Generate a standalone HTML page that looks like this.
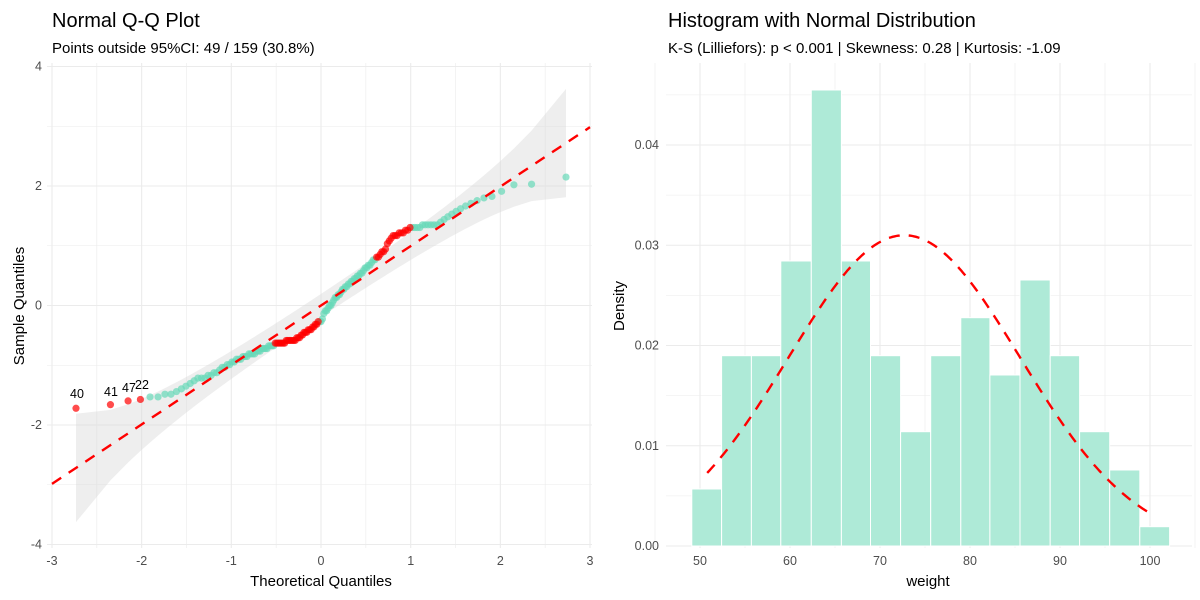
<!DOCTYPE html>
<html><head><meta charset="utf-8"><style>
body{margin:0;background:#fff;}
svg{display:block;font-family:"Liberation Sans",Arial,sans-serif;}
</style></head><body>
<svg id="s" width="1200" height="600" xmlns="http://www.w3.org/2000/svg">
<rect width="1200" height="600" fill="#fff"/>
<g id="L"></g><g id="R"></g>
<text x="52" y="27" font-size="20" fill="#000">Normal Q-Q Plot</text>
<text x="52" y="53" font-size="15" fill="#000">Points outside 95%CI: 49 / 159 (30.8%)</text>
<text x="321" y="586" font-size="15" text-anchor="middle" fill="#000">Theoretical Quantiles</text>
<text transform="translate(24,306) rotate(-90)" font-size="15" text-anchor="middle" fill="#000">Sample Quantiles</text>
<text x="668" y="27" font-size="20" fill="#000">Histogram with Normal Distribution</text>
<text x="668" y="53" font-size="15" fill="#000">K-S (Lilliefors): p &lt; 0.001 | Skewness: 0.28 | Kurtosis: -1.09</text>
<text x="928" y="586" font-size="15" text-anchor="middle" fill="#000">weight</text>
<text transform="translate(624,306) rotate(-90)" font-size="15" text-anchor="middle" fill="#000">Density</text>
</svg>
<script>
var NS="http://www.w3.org/2000/svg";
function el(p,t,a,txt){var e=document.createElementNS(NS,t);for(var k in a)e.setAttribute(k,a[k]);if(txt!==undefined)e.textContent=txt;p.appendChild(e);return e;}
var L=document.getElementById('L'),R=document.getElementById('R');
var X=function(v){return 321+v*89.67;},Y=function(v){return 305.5-v*59.75;};
for(var v=-3;v<=3;v+=0.5){el(L,'line',{x1:X(v),x2:X(v),y1:63,y2:548,stroke:'#ebebeb','stroke-width':v%1==0?1.1:0.6});}
for(var v=-4;v<=4;v+=1){el(L,'line',{x1:47,x2:592,y1:Y(v),y2:Y(v),stroke:'#ebebeb','stroke-width':v%2==0?1.1:0.6});}
[-3,-2,-1,0,1,2,3].forEach(function(v){el(L,'text',{x:X(v),y:565,'font-size':12.5,'text-anchor':'middle',fill:'#4d4d4d'},v);});
[-4,-2,0,2,4].forEach(function(v){el(L,'text',{x:42,y:Y(v)+4,'font-size':12.5,'text-anchor':'end',fill:'#4d4d4d'},v);});
function qnorm(p){var a=[-39.6968302866538,220.946098424521,-275.928510446969,138.357751867269,-30.6647980661472,2.50662827745924],b=[-54.4760987982241,161.585836858041,-155.698979859887,66.8013118877197,-13.2806815528857],c=[-0.00778489400243029,-0.322396458041136,-2.40075827716184,-2.54973253934373,4.37466414146497,2.93816398269878],d=[0.00778469570904146,0.32246712907004,2.445134137143,3.75440866190742];var q,r;if(p<0.02425){q=Math.sqrt(-2*Math.log(p));return(((((c[0]*q+c[1])*q+c[2])*q+c[3])*q+c[4])*q+c[5])/((((d[0]*q+d[1])*q+d[2])*q+d[3])*q+1);}if(p>1-0.02425){q=Math.sqrt(-2*Math.log(1-p));return-(((((c[0]*q+c[1])*q+c[2])*q+c[3])*q+c[4])*q+c[5])/((((d[0]*q+d[1])*q+d[2])*q+d[3])*q+1);}q=p-0.5;r=q*q;return(((((a[0]*r+a[1])*r+a[2])*r+a[3])*r+a[4])*r+a[5])*q/(((((b[0]*r+b[1])*r+b[2])*r+b[3])*r+b[4])*r+1);}
var n=159,sl=0.995,ic=0.0;
var up=[],lo=[];
for(var i=1;i<=n;i++){var p=(i-0.5)/n,z=qnorm(p);var dn=Math.exp(-z*z/2)/Math.sqrt(2*Math.PI);var se=sl/dn*Math.sqrt(p*(1-p)/n)*1.96;up.push(X(z)+','+Y(ic+sl*z+se));lo.unshift(X(z)+','+Y(ic+sl*z-se));}
el(L,'polygon',{points:up.concat(lo).join(' '),fill:'#d9d9d9','fill-opacity':0.45});
var K=[[-2.73,-1.72],[-2.35,-1.66],[-2.17,-1.60],[-2.0,-1.57],[-1.85,-1.54],[-1.6,-1.45],[-1.4,-1.25],[-1.2,-1.15],[-1.0,-0.95],[-0.75,-0.8],[-0.5,-0.64],[-0.3,-0.58],[-0.1,-0.38],[0.0,-0.25],[0.05,-0.1],[0.15,0.1],[0.3,0.35],[0.5,0.62],[0.7,0.92],[0.8,1.15],[0.95,1.25],[1.0,1.3],[1.3,1.37],[1.5,1.55],[1.75,1.78],[1.9,1.82],[2.0,1.9],[2.15,2.02],[2.35,2.03],[2.73,2.15]];
function f(z){if(z<=K[0][0])return K[0][1];for(var j=1;j<K.length;j++){if(z<=K[j][0]){var t=(z-K[j-1][0])/(K[j][0]-K[j-1][0]);return K[j-1][1]+t*(K[j][1]-K[j-1][1]);}}return K[K.length-1][1];}
var pts=[];
for(var i=1;i<=n;i++){var z=qnorm((i-0.5)/n);var y=f(z);if(i>4&&i<n-4)y=Math.round(y/0.045)*0.045;var red=(i<=4)||(z>=-0.52&&z<=-0.02)||(z>=0.62&&z<=1.0);pts.push([z,y,red]);}
pts.forEach(function(q){if(!q[2])el(L,'circle',{cx:X(q[0]),cy:Y(q[1]),r:3.6,fill:'#66d9b8','fill-opacity':0.7});});
pts.forEach(function(q){if(q[2])el(L,'circle',{cx:X(q[0]),cy:Y(q[1]),r:3.6,fill:'#ff0000','fill-opacity':0.7});});
el(L,'line',{x1:X(-3),y1:Y(ic-3*sl),x2:X(3),y2:Y(ic+3*sl),stroke:'#ff0000','stroke-width':2.4,'stroke-dasharray':'11,9'});
[['40',77,398],['41',111,396],['47',129,392],['22',142,389]].forEach(function(a){el(L,'text',{x:a[1],y:a[2],'font-size':12.5,'text-anchor':'middle',fill:'#000'},a[0]);});
var XR=function(v){return 700+(v-50)*9;},YR=function(v){return 546-v*10025;};
for(var v=45;v<=105;v+=5){el(R,'line',{x1:XR(v),x2:XR(v),y1:63,y2:548,stroke:'#ebebeb','stroke-width':v%10==0?1.1:0.6});}
for(var v=0;v<=0.045001;v+=0.005){el(R,'line',{x1:666,x2:1192,y1:YR(v),y2:YR(v),stroke:'#ebebeb','stroke-width':(Math.round(v*1000)%10==0)?1.1:0.6});}
[50,60,70,80,90,100].forEach(function(v){el(R,'text',{x:XR(v),y:565,'font-size':12.5,'text-anchor':'middle',fill:'#4d4d4d'},v);});
['0.00','0.01','0.02','0.03','0.04'].forEach(function(s){el(R,'text',{x:659,y:YR(+s)+4,'font-size':12.5,'text-anchor':'end',fill:'#4d4d4d'},s);});
var E=[691.8,721.6,751.4,780.8,811.3,841.4,870.5,900.6,930.7,960.8,989.9,1020,1050.2,1079.6,1109.7,1139.8,1169.6];
var H=[489,355.7,355.7,261,90,261,355.7,431.7,355.7,317.7,375,280,355.7,431.7,470,526.7];
for(var i=0;i<16;i++){el(R,'rect',{x:E[i],y:H[i],width:E[i+1]-E[i],height:546-H[i],fill:'#aeead7',stroke:'#fff','stroke-width':1});}
var mu=72.7,sd=12.87,d='';
for(var x=50.8;x<=100.4;x+=0.2){var y=Math.exp(-0.5*Math.pow((x-mu)/sd,2))/(sd*Math.sqrt(2*Math.PI));d+=(d?'L':'M')+XR(x).toFixed(1)+','+YR(y).toFixed(1);}
el(R,'path',{d:d,fill:'none',stroke:'#ff0000','stroke-width':2.4,'stroke-dasharray':'11,9'});
</script>
</body></html>
